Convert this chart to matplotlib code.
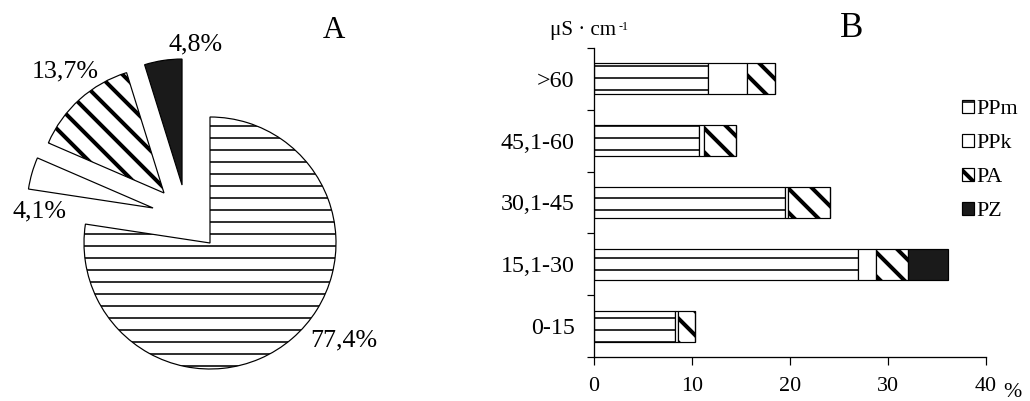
import matplotlib.pyplot as plt
import numpy as np

plt.rcParams['font.family'] = ['Liberation Serif', 'DejaVu Serif']
plt.rcParams['hatch.linewidth'] = 1.6

# panel A: share of each group
groups = ['PPm', 'PPk', 'PA', 'PZ']
shares = [77.4, 4.1, 13.7, 4.8]

# panel B: conductivity classes, % per group
classes = ['>60', '45,1-60', '30,1-45', '15,1-30', '0-15']
ppm = [11.7, 10.8, 19.5, 27.0, 8.3]
ppk = [3.9, 0.5, 0.3, 1.8, 0.3]
pa = [2.9, 3.2, 4.3, 3.3, 1.7]
pz = [0.0, 0.0, 0.0, 4.0, 0.0]
xticks = [0, 10, 20, 30, 40]

W, H, DPI = 1030, 401, 72   # dpi 72 -> 1 pt == 1 px, hatch spacing 12 px

fills = ['white', 'white', 'white', '#1a1a1a']
hatches = ['-', '', '\\', '']
hatch_lw = [1.6, 1.0, 4.0, 1.0]
# pulled-out slices (offset of wedge centre, in radii)
pull = [(0, 0), (-0.452, 0.278), (-0.365, 0.397), (-0.222, 0.46)]


def set_hlw(patches, lw):
    for p in patches:
        if hasattr(p, 'set_hatch_linewidth'):
            p.set_hatch_linewidth(lw)


fig = plt.figure(figsize=(W / DPI, H / DPI), dpi=DPI)

# ---------- A ----------
axA = fig.add_axes([0, 0, 420 / W, 1])
R = 126.0          # pie radius in px
cx, cy = 210, 243  # pie centre in px (from top-left)
wedges, _ = axA.pie(shares, startangle=90, counterclock=False,
                    colors=fills, hatch=hatches,
                    wedgeprops=dict(edgecolor='black', linewidth=1.2))
for w, lw, off in zip(wedges, hatch_lw, pull):
    set_hlw([w], lw)
    w.set_center(off)
axA.set_xlim(-cx / R, (420 - cx) / R)
axA.set_ylim(-(H - cy) / R, cy / R)

# label anchors (left, baseline) in pie-radius units
lab_pos = [(0.794, -0.825), (-1.571, 0.206), (-1.413, 1.317), (-0.333, 1.532)]
for v, (lx, ly) in zip(shares, lab_pos):
    axA.text(lx, ly, f'{v:.1f}%'.replace('.', ','), fontsize=26,
             ha='left', va='baseline')
fig.text(323 / W, 1 - 38 / H, 'A', fontsize=31, ha='left', va='baseline')

# ---------- B ----------
axB = fig.add_axes([593.5 / W, 44 / H, 392.5 / W, 309 / H])
y = np.arange(len(classes))
left = np.zeros(len(classes))
for name, vals, fc, h, lw in zip(groups, [ppm, ppk, pa, pz], fills, hatches, hatch_lw):
    bars = axB.barh(y, vals, left=left, height=0.5, color=fc, edgecolor='black',
                    linewidth=1.2, hatch=h, label=name)
    set_hlw(bars, lw)
    left += np.array(vals)

axB.set_xlim(0, 40)
axB.set_ylim(len(classes) - 0.5, -0.5)
axB.set_xticks(xticks)
axB.set_yticks(np.arange(len(classes) + 1) - 0.5)
axB.set_yticklabels([])
axB.set_yticks(y, minor=True)
axB.set_yticklabels(classes, minor=True)
axB.tick_params(axis='y', which='major', direction='out', length=7, width=1.2)
axB.tick_params(axis='y', which='minor', length=0, pad=19, labelsize=24)
axB.tick_params(axis='x', direction='out', length=8, width=1.2, pad=12, labelsize=22)
for s in ['top', 'right']:
    axB.spines[s].set_visible(False)
for s in ['left', 'bottom']:
    axB.spines[s].set_linewidth(1.3)

leg = axB.legend(loc='upper left', bbox_to_anchor=(962 / W, 1 - 100 / H),
                 bbox_transform=fig.transFigure, frameon=False, fontsize=22,
                 handlelength=0.55, handleheight=0.55, handletextpad=0.12,
                 labelspacing=0.66, borderpad=0, borderaxespad=0)
for hnd, lw in zip(leg.legend_handles, hatch_lw):
    set_hlw([hnd], lw)

unit = fig.text(550 / W, 1 - 35 / H, 'μS · cm', fontsize=21, ha='left', va='baseline')
axB.annotate('-1', xy=(1, 1), xycoords=unit, xytext=(2, 0), textcoords='offset points',
             fontsize=12, ha='left', va='top')
fig.text(840 / W, 1 - 37 / H, 'B', fontsize=35, ha='left', va='baseline')
fig.text(1003 / W, 1 - 397 / H, '%', fontsize=22, ha='left', va='baseline')

fig.savefig('out.png', dpi=DPI)
